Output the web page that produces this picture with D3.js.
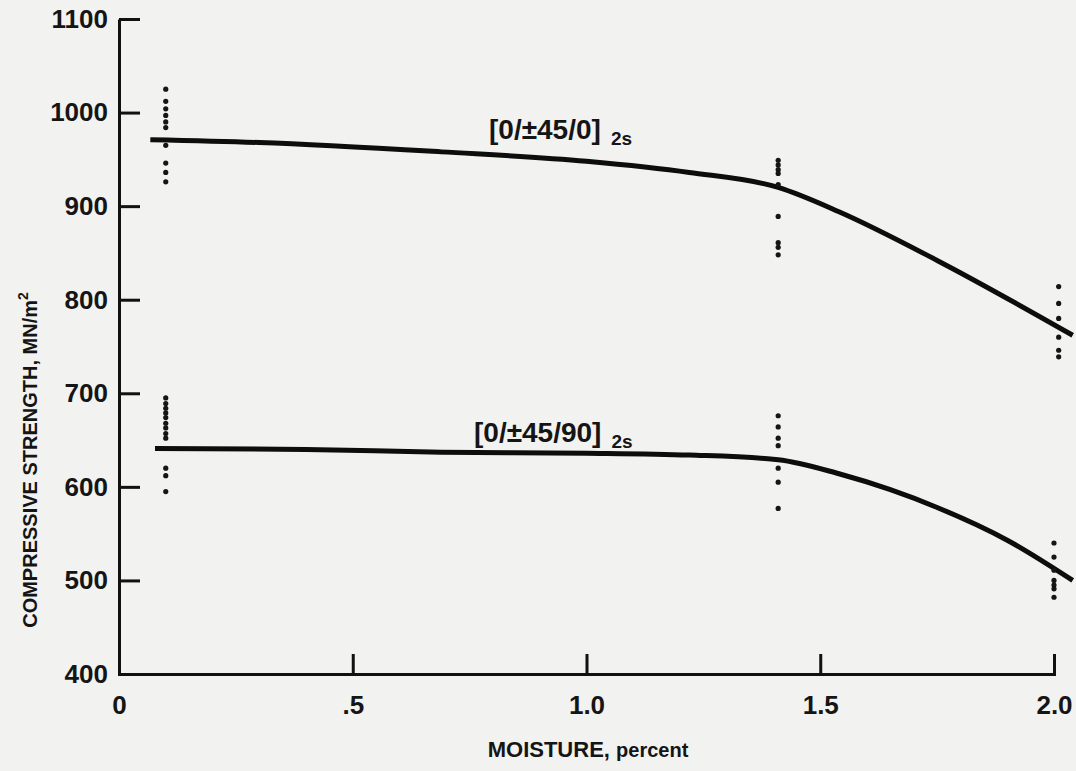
<!DOCTYPE html>
<html>
<head>
<meta charset="utf-8">
<script src="https://cdn.jsdelivr.net/npm/d3@7"></script>
<style>
  body { margin: 0; background: #f2f2f0; }
  svg { display: block; }
  text { font-family: "Liberation Sans", Arial, sans-serif; fill: #151515; }
</style>
</head>
<body>
<div id="chart"></div>
<script>
var svgWidth = 1076;
var svgHeight = 771;

// plot area in page pixels
var margin = { top: 19, right: 22, bottom: 97, left: 119 };
var width = 1054 - margin.left;
var height = 674 - margin.top;

// curve readings (moisture %, strength MN/m2)
var upperMoisture = [0.067, 0.3, 0.69, 1.0, 1.22, 1.41, 1.54, 1.75, 2.04];
var upperStrength = [971, 968, 958, 948, 936, 920, 894, 842, 762];
var lowerMoisture = [0.077, 0.4, 0.69, 1.0, 1.22, 1.41, 1.54, 1.65, 1.75, 1.9, 2.04];
var lowerStrength = [641, 640, 637, 636, 634, 629, 614, 597, 578, 543, 500];

// scattered test points
var upperDots = [
  [0.1, [1025, 1012, 1004, 997, 990, 984, 965, 946, 936, 926]],
  [1.41, [949, 944, 939, 935, 923, 889, 861, 856, 848]],
  [2.01, [814, 796, 780, 760, 746, 739]]
];
var lowerDots = [
  [0.1, [695, 689, 684, 679, 674, 668, 663, 657, 652, 620, 612, 595]],
  [1.41, [676, 664, 652, 644, 620, 605, 577]],
  [2.0, [540, 525, 511, 500, 495, 491, 482]]
];

var xTicks = [0, 0.5, 1.0, 1.5, 2.0];
var xTickLabels = ["0", ".5", "1.0", "1.5", "2.0"];
var yTicks = [400, 500, 600, 700, 800, 900, 1000, 1100];

var svg = d3.select("#chart")
  .append("svg")
  .attr("width", svgWidth)
  .attr("height", svgHeight);

var chartGroup = svg.append("g")
  .attr("transform", `translate(${margin.left}, ${margin.top})`);

var x = d3.scaleLinear().domain([0, 2.0]).range([0, width]);
var y = d3.scaleLinear().domain([400, 1100]).range([height, 0]);

// axes, ticks pointing inward
var bottomAxis = d3.axisBottom(x)
  .tickValues(xTicks)
  .tickFormat(function(d, i) { return xTickLabels[i]; })
  .tickSizeInner(-20)
  .tickSizeOuter(0)
  .tickPadding(22);

var leftAxis = d3.axisLeft(y)
  .tickValues(yTicks)
  .tickFormat(d3.format("d"))
  .tickSizeInner(-21)
  .tickSizeOuter(0)
  .tickPadding(11);

var gx = chartGroup.append("g")
  .attr("transform", `translate(0, ${height})`)
  .call(bottomAxis);

var gy = chartGroup.append("g")
  .call(leftAxis);

[gx, gy].forEach(function(g) {
  g.selectAll("path, line")
    .attr("stroke", "#111")
    .attr("stroke-width", 3);
  g.selectAll("text")
    .style("font-size", "26px")
    .style("font-weight", "bold")
    .attr("fill", "#151515");
});
gx.select(".domain").attr("stroke-linecap", "square");

// curves
var line = d3.line()
  .x(function(d) { return x(d[0]); })
  .y(function(d) { return y(d[1]); })
  .curve(d3.curveMonotoneX);

var curves = [
  d3.zip(upperMoisture, upperStrength),
  d3.zip(lowerMoisture, lowerStrength)
];

chartGroup.selectAll("path.curve")
  .data(curves)
  .enter().append("path")
  .attr("class", "curve")
  .attr("d", line)
  .attr("fill", "none")
  .attr("stroke", "#0d0d0d")
  .attr("stroke-width", 5);

// data dots
var dots = [];
upperDots.concat(lowerDots).forEach(function(col) {
  col[1].forEach(function(v) { dots.push([col[0], v]); });
});

chartGroup.selectAll("circle.dot")
  .data(dots)
  .enter().append("circle")
  .attr("class", "dot")
  .attr("cx", function(d) { return x(d[0]); })
  .attr("cy", function(d) { return y(d[1]); })
  .attr("r", 2.6)
  .attr("fill", "#151515");

// series labels
function seriesLabel(px, py, main) {
  var t = svg.append("text")
    .attr("x", px)
    .attr("y", py)
    .style("font-size", "28px")
    .style("font-weight", "bold");
  t.append("tspan").text(main);
  t.append("tspan")
    .attr("dx", 10)
    .attr("dy", 6)
    .style("font-size", "19px")
    .text("2s");
}
seriesLabel(489, 139, "[0/\u00b145/0]");
seriesLabel(474, 442, "[0/\u00b145/90]");

// axis titles
var xTitle = svg.append("text")
  .attr("x", 588)
  .attr("y", 757)
  .attr("text-anchor", "middle")
  .style("font-weight", "bold");
xTitle.append("tspan").style("font-size", "22px").text("MOISTURE, ");
xTitle.append("tspan").style("font-size", "20px").text("percent");

var yTitle = svg.append("text")
  .attr("transform", "translate(37, 460) rotate(-90)")
  .attr("text-anchor", "middle")
  .style("font-size", "20px")
  .style("font-weight", "bold");
yTitle.append("tspan").text("COMPRESSIVE STRENGTH, MN/m");
yTitle.append("tspan")
  .attr("dy", -9)
  .style("font-size", "14px")
  .text("2");
</script>
</body>
</html>
